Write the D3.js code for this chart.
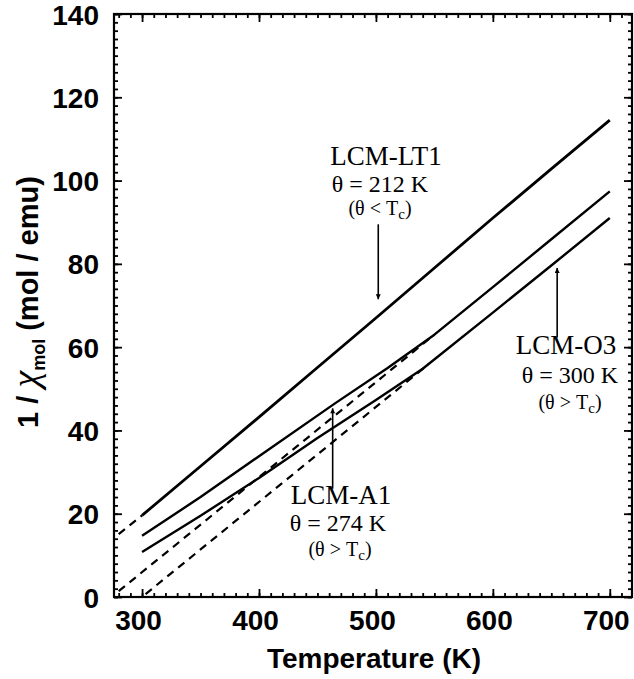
<!DOCTYPE html>
<html><head><meta charset="utf-8">
<script src="https://cdn.jsdelivr.net/npm/d3@7"></script>
<style>body{margin:0;background:#fff}</style>
</head><body><svg id="c" width="634" height="679"></svg>
<script>
// ---- data ----
const xTickValues = [300, 400, 500, 600, 700];
const yTickValues = [0, 20, 40, 60, 80, 100, 120, 140];

const lt1Temps = [300, 350, 400, 450, 500, 550, 600, 650, 700];
const lt1Values = [19.6, 31.4, 43.2, 55.1, 67.0, 79.0, 91.0, 102.8, 114.5];
const a1Temps = [300, 350, 400, 465, 510, 550, 600, 650, 700];
const a1Values = [14.7, 24.0, 33.8, 46.5, 55.0, 63.0, 74.4, 85.9, 97.4];
const o3Temps = [300, 350, 400, 450, 500, 540, 600, 650, 700];
const o3Values = [10.8, 19.5, 28.6, 38.2, 47.3, 54.8, 68.3, 79.6, 91.0];

// Curie-Weiss extrapolations (dashed)
const lt1FitTemps = [280, 300];
const lt1FitValues = [15.1, 19.6];
const a1FitTemps = [280, 550];
const a1FitValues = [1.4, 63.0];
const o3FitTemps = [303, 545];
const o3FitValues = [0.7, 55.9];

// annotations
const sampleNames = ["LCM-LT1", "LCM-A1", "LCM-O3"];
const thetaLabels = ["\u03B8 = 212 K", "\u03B8 = 274 K", "\u03B8 = 300 K"];
const relations = ["<", ">", ">"];
const arrowTemps = [502, 463, 655];
const arrowFrom = [89.5, 26.0, 62.3];
const arrowTo = [71.5, 45.3, 79.0];

// ---- layout ----
const svg = d3.select("#c");
const x = d3.scaleLinear().domain([276, 719]).range([114, 632]);
const y = d3.scaleLinear().domain([0, 140]).range([597, 14]);
const labelLayout = [
  {cx: [386, 380, 380], by: [165, 192, 215]},
  {cx: [341, 338, 340], by: [504, 531, 556]},
  {cx: [566, 570, 570], by: [354, 383, 409]}
];

const g = svg.append("g");

function axisGroup(axis, tf) {
  const a = g.append("g").attr("transform", tf).call(axis);
  a.select(".domain").remove();
  a.selectAll("line").attr("stroke", "#000").attr("stroke-width", 1.8);
  return a;
}
const xMinor = d3.range(280, 720, 10);
const yMinor = d3.range(0, 141, 2);
axisGroup(d3.axisBottom(x).tickValues(xMinor).tickSize(-4).tickFormat(""), `translate(0,${y(0)})`);
axisGroup(d3.axisTop(x).tickValues(xMinor).tickSize(-4).tickFormat(""), `translate(0,${y(140)})`);
axisGroup(d3.axisLeft(y).tickValues(yMinor).tickSize(-4).tickFormat(""), `translate(${x.range()[0]},0)`);
axisGroup(d3.axisRight(y).tickValues(yMinor).tickSize(-4).tickFormat(""), `translate(${x.range()[1]},0)`);

const sans = "Liberation Sans, Arial, sans-serif";
const xb = axisGroup(d3.axisBottom(x).tickValues(xTickValues).tickSize(-8).tickPadding(13), `translate(0,${y(0)})`);
xb.selectAll("text").attr("font-family", sans).attr("font-weight", "bold")
  .attr("font-size", 28).attr("fill", "#000").attr("dy", "0.71em").attr("dx", -4);
axisGroup(d3.axisTop(x).tickValues(xTickValues).tickSize(-8).tickFormat(""), `translate(0,${y(140)})`);
const yl = axisGroup(d3.axisLeft(y).tickValues(yTickValues).tickSize(-8).tickPadding(15), `translate(${x.range()[0]},0)`);
yl.selectAll("text").attr("font-family", sans).attr("font-weight", "bold")
  .attr("font-size", 28).attr("fill", "#000").attr("dy", "0.36em");
axisGroup(d3.axisRight(y).tickValues(yTickValues).tickSize(-8).tickFormat(""), `translate(${x.range()[1]},0)`);

// frame
g.append("rect").attr("x", x.range()[0]).attr("y", y(140))
  .attr("width", x.range()[1] - x.range()[0]).attr("height", y(0) - y(140))
  .attr("fill", "none").attr("stroke", "#000").attr("stroke-width", 2.2);

// lines
const line = d3.line().x(d => x(d[0])).y(d => y(d[1]));
function zip(a, b) { return a.map((v, i) => [v, b[i]]); }
const dashed = [[lt1FitTemps, lt1FitValues], [a1FitTemps, a1FitValues], [o3FitTemps, o3FitValues]];
dashed.forEach(([t, v]) => {
  g.append("path").attr("d", line(zip(t, v))).attr("fill", "none")
    .attr("stroke", "#000").attr("stroke-width", 2.2).attr("stroke-dasharray", "8,6");
});
const solids = [[lt1Temps, lt1Values, 2.8], [a1Temps, a1Values, 2.4], [o3Temps, o3Values, 2.4]];
solids.forEach(([t, v, w]) => {
  g.append("path").attr("d", line(zip(t, v))).attr("fill", "none")
    .attr("stroke", "#000").attr("stroke-width", w).attr("stroke-linejoin", "round");
});

// arrows
svg.append("defs").append("marker").attr("id", "ah").attr("viewBox", "0 0 10 10")
  .attr("refX", 10).attr("refY", 5).attr("markerWidth", 12).attr("markerHeight", 5)
  .attr("markerUnits", "userSpaceOnUse").attr("orient", "auto")
  .append("path").attr("d", "M0,0 L10,5 L0,10 z").attr("fill", "#000");
arrowTemps.forEach((t, i) => {
  g.append("line").attr("x1", x(t)).attr("x2", x(t)).attr("y1", y(arrowFrom[i])).attr("y2", y(arrowTo[i]))
    .attr("stroke", "#000").attr("stroke-width", 1.6).attr("marker-end", "url(#ah)");
});

// annotation labels
const serif = "Liberation Serif, Times New Roman, serif";
sampleNames.forEach((name, i) => {
  const L = labelLayout[i];
  g.append("text").attr("x", L.cx[0]).attr("y", L.by[0]).attr("text-anchor", "middle")
    .attr("font-family", serif).attr("font-size", 27).text(name);
  g.append("text").attr("x", L.cx[1]).attr("y", L.by[1]).attr("text-anchor", "middle")
    .attr("font-family", serif).attr("font-size", 24).text(thetaLabels[i]);
  const t3 = g.append("text").attr("x", L.cx[2]).attr("y", L.by[2]).attr("text-anchor", "middle")
    .attr("font-family", serif).attr("font-size", 20);
  t3.append("tspan").text("(\u03B8 " + relations[i] + " T");
  t3.append("tspan").attr("font-size", 15).attr("dy", 4).text("c");
  t3.append("tspan").attr("dy", -4).text(")");
});

// axis titles
svg.append("text").attr("x", 374).attr("y", 668).attr("text-anchor", "middle")
  .attr("font-family", sans).attr("font-weight", "bold")
  .attr("font-size", 28).text("Temperature (K)");
const yt = svg.append("text").attr("transform", "translate(38,302) rotate(-90)").attr("text-anchor", "middle")
  .attr("font-family", sans).attr("font-weight", "bold").attr("font-size", 29);
yt.append("tspan").text("1 /  ");
yt.append("tspan").attr("font-family", serif).attr("font-style", "italic").attr("font-weight", "normal")
  .attr("font-size", 38).text("\u03C7");
yt.append("tspan").attr("font-size", 18).attr("dy", 7).text("mol");
yt.append("tspan").attr("dy", -7).text(" (mol / emu)");
</script>
</body></html>
